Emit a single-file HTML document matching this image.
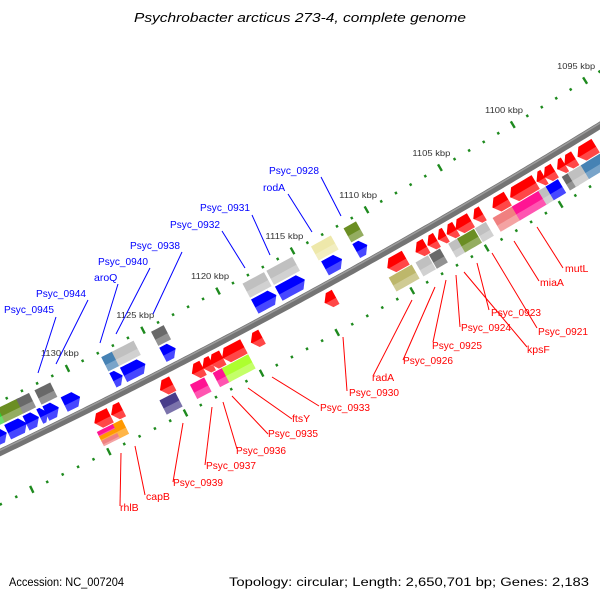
<!DOCTYPE html>
<html><head><meta charset="utf-8">
<style>
html,body{margin:0;padding:0;background:#fff;width:600px;height:600px;overflow:hidden}
svg{display:block;font-family:"Liberation Sans","DejaVu Sans",sans-serif}
</style></head>
<body>
<svg id="map" width="600" height="600" viewBox="0 0 600 600" xmlns="http://www.w3.org/2000/svg">
<rect width="600" height="600" fill="#fff"/>
<text x="300" y="22" text-anchor="middle" font-size="13" font-style="italic" fill="#000" textLength="332" lengthAdjust="spacingAndGlyphs">Psychrobacter arcticus 273-4, complete genome</text>
<g id="ticks"></g>
<g id="backbone"></g>
<g id="genes"></g>
<g id="labels"></g>
<text x="9" y="586" font-size="11.5" fill="#000" textLength="115" lengthAdjust="spacingAndGlyphs">Accession: NC_007204</text>
<text x="589" y="586" text-anchor="end" font-size="11.5" fill="#000" textLength="360" lengthAdjust="spacingAndGlyphs">Topology: circular; Length: 2,650,701 bp; Genes: 2,183</text>
</svg>
<script>
// ---- data (kbp) ----
const tickKbp = [1094,1095,1096,1097,1098,1099,1100,1101,1102,1103,1104,1105,1106,1107,1108,1109,1110,1111,1112,1113,1114,1115,1116,1117,1118,1119,1120,1121,1122,1123,1124,1125,1126,1127,1128,1129,1130,1131,1132,1133,1134,1135,1136,1137,1138];
const tickLabelKbp = [1095,1100,1105,1110,1115,1120,1125,1130];
const tickLabels = ["1095 kbp","1100 kbp","1105 kbp","1110 kbp","1115 kbp","1120 kbp","1125 kbp","1130 kbp"];

const fwdArrowStart = [1135.6,1134.7,1133.5,1132.6,1132.2,1131.0,1127.8,1127.1,1124.5,1118.4,1116.8,1113.7,1111.6];
const fwdArrowEnd   = [1135.0,1133.7,1132.9,1132.3,1131.6,1130.2,1127.4,1125.9,1123.9,1117.2,1115.3,1112.8,1111.1];

const fwdBoxStart = [1135.6,1134.6,1133.4,1132.2,1127.8,1127.1,1124.5,1118.4,1116.8,1113.8,1111.6];
const fwdBoxEnd   = [1134.7,1133.5,1132.8,1131.4,1127.3,1125.9,1123.9,1117.2,1115.3,1112.7,1111.0];
const fwdBoxColor = ["#32cd32","#6b8e23","#696969","#696969","#4682b4","#c0c0c0","#696969","#c0c0c0","#c0c0c0","#eee8aa","#6b8e23"];

const revArrowStart = [1129.9,1128.8,1125.6,1123.5,1122.8,1122.3,1121.5,1119.6,1114.7,1110.5,1108.6,1107.8,1107.1,1106.5,1105.9,1104.7,1103.4,1102.2,1100.4,1099.9,1099.0,1098.5,1097.6,1096.0];
const revArrowEnd   = [1129.1,1128.3,1125.0,1123.0,1122.4,1121.7,1120.3,1119.1,1114.2,1109.5,1108.1,1107.4,1106.8,1106.1,1105.1,1104.3,1102.6,1100.7,1100.1,1099.4,1098.7,1098.0,1096.6,1095.2];

const revBoxStart = [1129.0,1125.9,1123.9,1122.4,1121.8,1110.7,1108.9,1108.0,1106.7,1106.1,1104.9,1103.7,1102.4,1100.6,1100.1,1099.0,1098.6,1097.7];
const revBoxEnd   = [1128.6,1125.1,1123.2,1121.9,1120.3,1109.4,1108.3,1107.5,1106.2,1105.2,1104.4,1102.6,1100.7,1100.1,1099.5,1098.6,1097.8,1095.9];
const revBoxColor = ["#ff9900","#483d8b","#ff1493","#ff1493","#adff2f","#bdb76b","#c0c0c0","#696969","#c0c0c0","#6b8e23","#c0c0c0","#f08080","#ff1493","#c0c0c0","#0000ff","#696969","#c0c0c0","#4682b4"];

const stackStart = [1130.0,1130.0,1130.0];
const stackEnd   = [1129.2,1129.2,1129.2];
const stackColor = ["#ff1493","#ff9900","#f08080"];

// ---- geometry ----
const CX=-2800, CY=-5398, A0=63.56, DEG=0.1506;
const R_TICK_OUT=6440, R_BONE=6486, R_TICK_IN=6533;
const PAD=0.12;
const NS="http://www.w3.org/2000/svg";
function pt(k,r){const a=(A0+(k-1130)*DEG)*Math.PI/180;return [CX+r*Math.cos(a),CY+r*Math.sin(a)];}
function arcPts(a,b,r){const n=Math.max(2,Math.ceil(Math.abs(b-a)*4));const o=[];for(let i=0;i<=n;i++)o.push(pt(a+(b-a)*i/n,r));return o;}
function poly(pts){return pts.map(p=>p[0].toFixed(2)+","+p[1].toFixed(2)).join(" ");}
function mk(tag,parent){const e=document.createElementNS(NS,tag);parent.appendChild(e);return e;}

// ticks
const tg=document.getElementById('ticks');
tickKbp.forEach(k=>{
  [R_TICK_OUT,R_TICK_IN].forEach(r=>{
    const major=(k%5===0);
    const h=major?3.8:1.3;
    const p1=pt(k,r-h),p2=pt(k,r+h);
    const l=mk('line',tg);
    
    
    l.setAttribute('x1',p1[0]);l.setAttribute('y1',p1[1]);l.setAttribute('x2',p2[0]);l.setAttribute('y2',p2[1]);
    l.setAttribute('stroke','#1e8a1e');l.setAttribute('stroke-width',2.4);
  });
});
tickLabelKbp.forEach((k,i)=>{
  const p=pt(k,R_TICK_OUT-17);
  const t=mk('text',tg);
  
  
  t.setAttribute('x',p[0]);t.setAttribute('y',p[1]+3);
  t.setAttribute('text-anchor','middle');t.setAttribute('font-size','8.5');t.setAttribute('fill','#333');
  t.setAttribute('textLength','38');t.setAttribute('lengthAdjust','spacingAndGlyphs');
  t.textContent=tickLabels[i];
});

// backbone
const bg=document.getElementById('backbone');
const bl=mk('polyline',bg);


bl.setAttribute('points',poly(arcPts(1142,1088,R_BONE)));bl.setAttribute('fill','none');bl.setAttribute('stroke','#747474');bl.setAttribute('stroke-width','7');
const bh=mk('polyline',bg);


bh.setAttribute('points',poly(arcPts(1142,1088,R_BONE-2)));bh.setAttribute('fill','none');bh.setAttribute('stroke','#9c9c9c');bh.setAttribute('stroke-width','1.5');

// genes
const gg=document.getElementById('genes');
function boxShape(a,b,r1,r2,color,name){
  const d=Math.sign(b-a)||1; a-=d*PAD; b+=d*PAD;
  const g=mk('g',gg);
  
  
  const p=mk('polygon',g);
  p.setAttribute('points',poly(arcPts(a,b,r1).concat(arcPts(b,a,r2))));
  p.setAttribute('fill',color);
  const rm=(r1+r2)/2+1;
  const s=mk('polygon',g);
  s.setAttribute('points',poly(arcPts(a,b,rm).concat(arcPts(b,a,r2))));
  s.setAttribute('fill','#fff');s.setAttribute('fill-opacity','0.28');
}
function arrowShape(a,b,r1,r2,color,name){
  const dir=Math.sign(b-a)||1; a-=dir*PAD; b+=dir*PAD;
  const len=Math.abs(b-a);
  const h=Math.min(0.34,len*0.8);
  const neck=b-dir*h, rm=(r1+r2)/2;
  const g=mk('g',gg);
  
  
  let pts=arcPts(a,neck,r1);
  pts.push(pt(b,rm));
  pts=pts.concat(arcPts(neck,a,r2));
  const p=mk('polygon',g);
  p.setAttribute('points',poly(pts));p.setAttribute('fill',color);
  let sp=arcPts(a,neck,rm+1);
  sp.push(pt(b,rm+1));
  sp=sp.concat(arcPts(neck,a,r2));
  const s=mk('polygon',g);
  s.setAttribute('points',poly(sp));s.setAttribute('fill','#fff');s.setAttribute('fill-opacity','0.28');
}
fwdBoxStart.forEach((s,i)=>boxShape(s,fwdBoxEnd[i],6445,6461,fwdBoxColor[i],'forward-cog-box'));
fwdArrowStart.forEach((s,i)=>arrowShape(s,fwdArrowEnd[i],6463,6479,'#0000ff','forward-gene-arrow'));
revArrowStart.forEach((s,i)=>arrowShape(revArrowEnd[i],s,6493,6509,'#ff0000','reverse-gene-arrow'));
revBoxStart.forEach((s,i)=>boxShape(s,revBoxEnd[i],6510,6526,revBoxColor[i],'reverse-cog-box'));
stackStart.forEach((s,i)=>boxShape(s,stackEnd[i],6510+i*5,6516+i*5,stackColor[i],'stacked-cog-box'));

// labels with leader lines
const lg=document.getElementById('labels');
const blueLabels=[
 ["Psyc_0928",269,174,321,177,341,216],
 ["rodA",263,191,288,194,312,232],
 ["Psyc_0931",200,211,252,215,270,255],
 ["Psyc_0932",170,228,222,231,245,268],
 ["Psyc_0938",130,249,182,252,153,314],
 ["Psyc_0940",98,265,150,268,116,334],
 ["aroQ",94,281,118,284,100,343],
 ["Psyc_0944",36,297,88,300,56,364],
 ["Psyc_0945",4,313,56,317,38,373]];
const redLabels=[
 ["mutL",565,272,537,227,563,268],
 ["miaA",540,286,514,241,539,281],
 ["Psyc_0921",538,335,492,253,537,328],
 ["Psyc_0923",491,316,477,263,489,310],
 ["kpsF",527,353,464,272,527,347],
 ["Psyc_0924",461,331,456,275,460,327],
 ["Psyc_0925",432,349,446,280,433,342],
 ["Psyc_0926",403,364,435,287,403,360],
 ["radA",372,381,412,300,373,376],
 ["Psyc_0930",349,396,343,337,347,391],
 ["Psyc_0933",320,411,272,377,319,406],
 ["ftsY",292,422,248,388,292,419],
 ["Psyc_0935",268,437,232,396,268,434],
 ["Psyc_0936",236,454,223,402,237,449],
 ["Psyc_0937",206,469,212,407,205,465],
 ["Psyc_0939",173,486,183,423,173,482],
 ["capB",146,500,135,446,145,495],
 ["rhlB",120,511,121,453,120,506]];
function addLabel(d,color){
  const l=mk('line',lg);
  
  
  l.setAttribute('x1',d[3]);l.setAttribute('y1',d[4]);l.setAttribute('x2',d[5]);l.setAttribute('y2',d[6]);
  l.setAttribute('stroke',color);l.setAttribute('stroke-width','1');
  const t=mk('text',lg);
  
  
  t.setAttribute('x',d[1]);t.setAttribute('y',d[2]);t.setAttribute('font-size','10.5');t.setAttribute('fill',color);
  if(d[0].length>5){t.setAttribute('textLength',50);t.setAttribute('lengthAdjust','spacingAndGlyphs');}
  t.textContent=d[0];
}
blueLabels.forEach(d=>addLabel(d,'#0000ff'));
redLabels.forEach(d=>addLabel(d,'#ff0000'));
</script>
</body></html>
